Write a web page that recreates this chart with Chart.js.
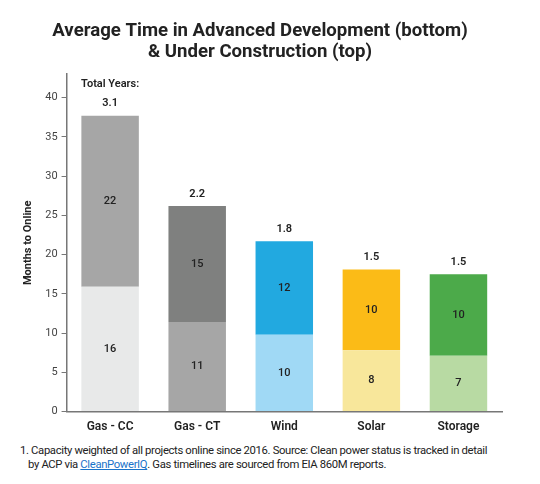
<!DOCTYPE html>
<html><head><meta charset="utf-8">
<script src="https://cdn.jsdelivr.net/npm/chart.js@4"></script>
<style>
html,body{margin:0;padding:0;background:#fff;}
#wrap{position:relative;width:540px;height:434px;}
#note{position:absolute;left:20px;top:444px;width:520px;white-space:nowrap;font-family:Roboto,sans-serif;font-size:11.3px;line-height:14px;color:#222;letter-spacing:-0.35px;}
#note .l2{padding-left:8px;}
#note a{color:#1a73c9;text-decoration:underline;}
</style></head>
<body>
<div id="wrap"><canvas id="c" width="540" height="434"></canvas></div>
<div id="note">1. Capacity weighted of all projects online since 2016. Source: Clean power status is tracked in detail<br><span class="l2">by ACP via <a>CleanPowerIQ</a>. Gas timelines are sourced from EIA 860M reports.</span></div>
<script>
const categories = ['Gas - CC','Gas - CT','Wind','Solar','Storage'];
const advancedDevelopment = [15.9, 11.4, 9.8, 7.8, 7.1];
const underConstruction = [21.8, 14.8, 11.9, 10.3, 10.4];
const yTicks = [0,5,10,15,20,25,30,35,40];
const bottomColors = ['#e8e9e9','#a6a6a6','#a0d9f5','#f8e79b','#b8daa3'];
const topColors = ['#a6a6a6','#7f807f','#22a9e0','#fbbb17','#4caa4a'];

const labelPlugin = {
  id:'labels',
  afterDatasetsDraw(chart){
    const ctx = chart.ctx;
    ctx.save();
    ctx.textAlign='center';
    ctx.textBaseline='middle';
    ctx.fillStyle='#222';
    ctx.font='500 11px Roboto, sans-serif';
    chart.data.datasets.forEach((ds,di)=>{
      const meta = chart.getDatasetMeta(di);
      meta.data.forEach((bar,i)=>{
        const p = bar.getProps(['x','y','base'],true);
        ctx.fillText(String(Math.round(ds.data[i])), p.x, (p.y+p.base)/2);
      });
    });
    const topMeta = chart.getDatasetMeta(1);
    ctx.font='600 11px Roboto, sans-serif';
    topMeta.data.forEach((bar,i)=>{
      const total = advancedDevelopment[i]+underConstruction[i];
      ctx.fillText((total/12).toFixed(1), bar.x, bar.y-12);
    });
    ctx.fillText('Total Years:', topMeta.data[0].x, topMeta.data[0].y-31);
    ctx.restore();
  }
};

new Chart(document.getElementById('c'), {
  type:'bar',
  data:{
    labels:categories,
    datasets:[
      {label:'Advanced Development', data:advancedDevelopment, backgroundColor:bottomColors, borderWidth:0},
      {label:'Under Construction', data:underConstruction, backgroundColor:topColors, borderWidth:0}
    ]
  },
  options:{
    responsive:false,
    animation:false,
    layout:{padding:{left:18,right:38,top:21,bottom:0}},
    datasets:{bar:{barPercentage:0.66,categoryPercentage:1}},
    plugins:{
      legend:{display:false},
      tooltip:{enabled:false},
      title:{display:true,text:['Average Time in Advanced Development (bottom)','& Under Construction (top)'],
        color:'#222',font:{family:'Roboto, sans-serif',size:18.6,weight:'bold',lineHeight:1.13},padding:{top:0,bottom:11}}
    },
    scales:{
      x:{stacked:true,
        grid:{display:false},
        border:{display:true,color:'#777',width:1.5},
        ticks:{color:'#222',font:{family:'Roboto, sans-serif',size:12,weight:'600'},padding:0}
      },
      y:{stacked:true,min:0,max:43,
        afterBuildTicks(scale){scale.ticks = yTicks.map(v=>({value:v}));},
        grid:{drawOnChartArea:false,drawTicks:true,tickLength:5,color:'#777',lineWidth:1},
        border:{display:true,color:'#777',width:1.5},
        ticks:{color:'#444',font:{family:'Roboto, sans-serif',size:11},padding:4},
        title:{display:true,text:'Months to Online',color:'#222',font:{family:'Roboto, sans-serif',size:11,weight:'bold'},padding:{bottom:6}}
      }
    }
  },
  plugins:[labelPlugin]
});
</script>
</body></html>
